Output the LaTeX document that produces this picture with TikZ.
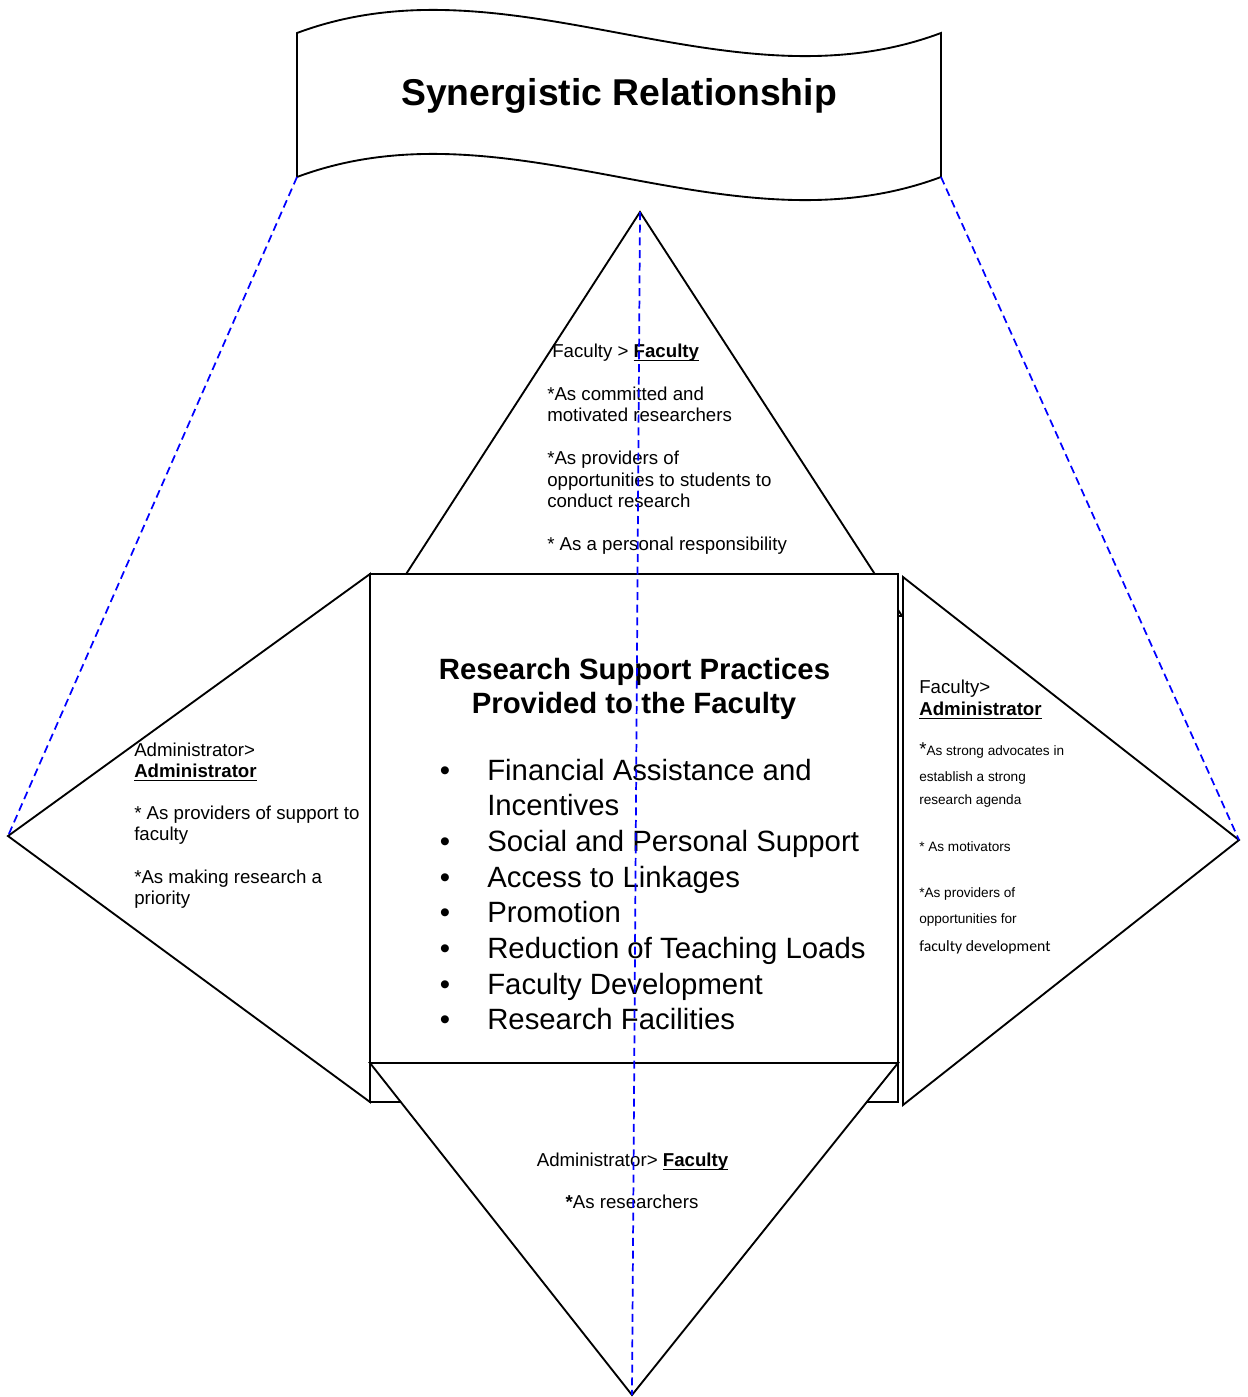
\documentclass[tikz,border=0pt]{standalone}
\usepackage{fontspec}
\setmainfont{Liberation Sans}
\newfontfamily\calibrilike{Carlito}

% bold word with a fixed underline below the baseline
\newsavebox\ulbox
\newcommand\ulbold[1]{\sbox\ulbox{\bfseries #1}\rlap{\rule[-0.23em]{\wd\ulbox}{0.09em}}\usebox\ulbox}

\tikzset{
  outline/.style={draw=black, line width=1.4pt, fill=white, line join=miter},
  guide/.style={draw=blue, line width=1.3pt, dash pattern=on 6pt off 3.5pt},
  body/.style={font=\fontsize{14}{16}\selectfont, inner sep=0pt, anchor=base west},
  bodyc/.style={font=\fontsize{14}{16}\selectfont, inner sep=0pt, anchor=base},
  small/.style={font=\fontsize{10.2}{12}\selectfont, inner sep=0pt, anchor=base west},
  item/.style={font=\fontsize{22}{26}\selectfont, inner sep=0pt, anchor=base west},
  dot/.style={font=\fontsize{22}{26}\selectfont, inner sep=0pt, anchor=base},
  heading/.style={font=\bfseries\fontsize{22}{26}\selectfont, inner sep=0pt, anchor=base},
  titletext/.style={font=\bfseries\fontsize{28}{32}\selectfont, inner sep=0pt, anchor=base},
}

\begin{document}
\begin{tikzpicture}[x=0.75pt, y=-0.75pt]
  \useasboundingbox (0,0) rectangle (1247,1397);

  % key points
  \coordinate (bannerL) at (297,177);
  \coordinate (bannerR) at (941,177);
  \coordinate (topApex) at (640,212);
  \coordinate (leftApex) at (8,836);
  \coordinate (rightApex) at (1239,840);
  \coordinate (bottomApex) at (632,1395);

  % waving banner
  \draw[outline] (297,33) .. controls (511,-47) and (727,113) .. (941,33)
    -- (bannerR) .. controls (727,257) and (511,97) .. (bannerL) -- cycle;
  \node[titletext] (title) at (619,105) {Synergistic Relationship};

  % four flaps around the central square
  \draw[outline] (topApex) -- (902,616) -- (379,616) -- cycle;
  \draw[outline] (leftApex) -- (370,574) -- (370,1102) -- cycle;
  \draw[outline] (903,577) -- (rightApex) -- (903,1105) -- cycle;
  \draw[outline] (370,574) rectangle (898,1102);
  \draw[outline] (370,1063) -- (898,1063) -- (bottomApex) -- cycle;

  % top flap
  \node[body] (f1) at (552,357) {Faculty > \ulbold{Faculty}};
  \node[body] (f2) at (547,400) {*As committed and};
  \node[body] (f3) at (547,421) {motivated researchers};
  \node[body] (f4) at (547,464) {*As providers of};
  \node[body] (f5) at (547,486) {opportunities to students to};
  \node[body] (f6) at (547,507) {conduct research};
  \node[body] (f7) at (547,550) {* As a personal responsibility};

  % left flap
  \node[body] (a1) at (134,756) {Administrator>};
  \node[body] (a2) at (134,777) {\ulbold{Administrator}};
  \node[body] (a3) at (134,819) {* As providers of support to};
  \node[body] (a4) at (134,840) {faculty};
  \node[body] (a5) at (134,883) {*As making research a};
  \node[body] (a6) at (134,904) {priority};

  % right flap
  \node[body] (r1) at (919,693) {Faculty>};
  \node[body] (r2) at (919,715) {\ulbold{Administrator}};
  \node[small] (r3) at (919,755) {{\fontsize{14}{16}\selectfont*}As strong advocates in};
  \node[small] (r4) at (919,781) {establish a strong};
  \node[small] (r5) at (919,804) {research agenda};
  \node[small] (r6) at (919,851) {* As motivators};
  \node[small] (r7) at (919,897) {*As providers of};
  \node[small] (r8) at (919,923) {opportunities for};
  \node[small, font=\calibrilike\fontsize{11.8}{14}\selectfont] (r9) at (919,951) {faculty development};

  % central square
  \node[heading] (h1) at (634.5,679) {Research Support Practices};
  \node[heading] (h2) at (634,713) {Provided to the Faculty};
  \node[dot] (d1) at (445,780) {•};
  \node[item] (i1) at (487,780) {Financial Assistance and};
  \node[item] (i1b) at (487,815.7) {Incentives};
  \node[dot] (d2) at (445,851.4) {•};
  \node[item] (i2) at (487,851.4) {Social and Personal Support};
  \node[dot] (d3) at (445,887.1) {•};
  \node[item] (i3) at (487,887.1) {Access to Linkages};
  \node[dot] (d4) at (445,922.8) {•};
  \node[item] (i4) at (487,922.8) {Promotion};
  \node[dot] (d5) at (445,958.5) {•};
  \node[item] (i5) at (487,958.5) {Reduction of Teaching Loads};
  \node[dot] (d6) at (445,994.2) {•};
  \node[item] (i6) at (487,994.2) {Faculty Development};
  \node[dot] (d7) at (445,1029.9) {•};
  \node[item] (i7) at (487,1029.9) {Research Facilities};

  % bottom flap
  \node[bodyc] (b1) at (632.5,1166) {Administrator> \ulbold{Faculty}};
  \node[bodyc] (b2) at (632,1208) {\textbf{*}As researchers};

  % dashed guide lines
  \draw[guide] (bannerL) -- (leftApex);
  \draw[guide] (bannerR) -- (rightApex);
  \draw[guide] (topApex) -- (bottomApex);
\end{tikzpicture}
\end{document}
